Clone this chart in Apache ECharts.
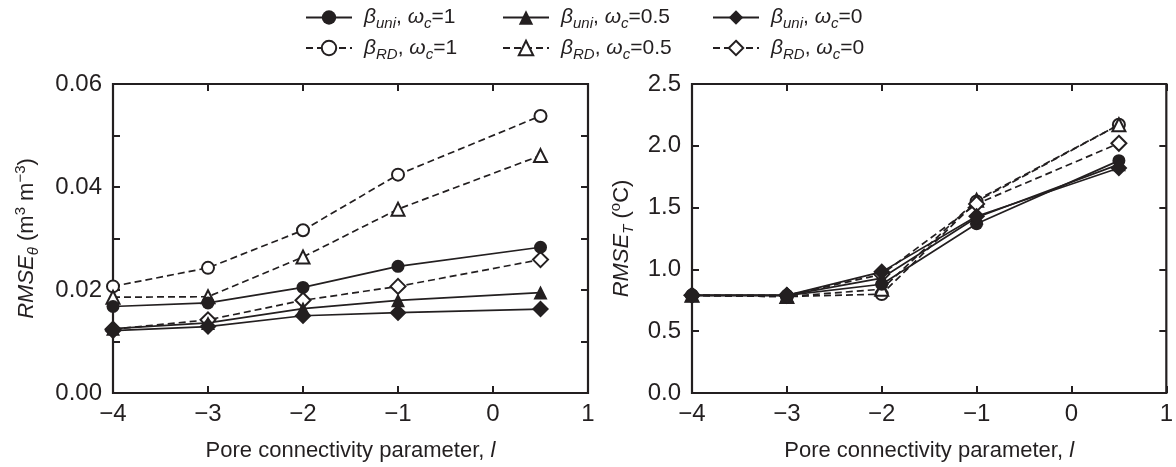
<!DOCTYPE html>
<html>
<head>
<meta charset="utf-8">
<script src="https://cdn.jsdelivr.net/npm/echarts@6/dist/echarts.min.js"></script>
<style>
  html, body { margin: 0; padding: 0; background: #ffffff; }
  #chart { width: 1176px; height: 467px; }
</style>
</head>
<body>
<div id="chart"></div>
<script>
// Pore connectivity parameter values on the x axis
const poreL = [-4, -3, -2, -1, 0.5];

// RMSE of soil water content (m3 m-3)
const thetaUni1  = [0.0168, 0.0175, 0.0205, 0.0246, 0.0283];
const thetaUni05 = [0.0125, 0.0136, 0.0164, 0.0180, 0.0195];
const thetaUni0  = [0.0121, 0.0129, 0.0150, 0.0156, 0.0163];
const thetaRD1   = [0.0207, 0.0243, 0.0316, 0.0424, 0.0538];
const thetaRD05  = [0.0186, 0.0187, 0.0264, 0.0357, 0.0461];
const thetaRD0   = [0.0124, 0.0142, 0.0180, 0.0207, 0.0259];

// RMSE of soil temperature (oC)
const tempUni1  = [0.79, 0.79, 0.88, 1.37, 1.88];
const tempUni05 = [0.79, 0.79, 0.93, 1.42, 1.85];
const tempUni0  = [0.79, 0.79, 0.98, 1.43, 1.82];
const tempRD1   = [0.79, 0.78, 0.80, 1.55, 2.17];
const tempRD05  = [0.79, 0.78, 0.84, 1.56, 2.17];
const tempRD0   = [0.79, 0.79, 0.96, 1.53, 2.02];

// Legend entries: key, beta variant, omega_c value
const legendKeys  = ['uni1', 'uni05', 'uni0', 'rd1', 'rd05', 'rd0'];
const betaLabels  = ['uni', 'uni', 'uni', 'RD', 'RD', 'RD'];
const omegaLabels = ['1', '0.5', '0', '1', '0.5', '0'];

// Dashed (RD) series are drawn first so the filled markers sit on top
const drawOrder = ['rd1', 'rd05', 'rd0', 'uni1', 'uni05', 'uni0'];

const ink = '#231f20';
const font = 'Liberation Sans';

const seriesStyle = {
  uni1:  { symbol: 'circle',        size: 13, dashed: false },
  uni05: { symbol: 'triangle',      size: 14, dashed: false },
  uni0:  { symbol: 'diamond',       size: 17, dashed: false },
  rd1:   { symbol: 'emptyCircle',   size: 12, dashed: true },
  rd05:  { symbol: 'emptyTriangle', size: 13, dashed: true },
  rd0:   { symbol: 'emptyDiamond',  size: 15, dashed: true }
};

const thetaSets = { uni1: thetaUni1, uni05: thetaUni05, uni0: thetaUni0, rd1: thetaRD1, rd05: thetaRD05, rd0: thetaRD0 };
const tempSets  = { uni1: tempUni1,  uni05: tempUni05,  uni0: tempUni0,  rd1: tempRD1,  rd05: tempRD05,  rd0: tempRD0 };

function pairs(ys) { return poreL.map((x, i) => [x, ys[i]]); }

function makeSeries(key, values, axisIdx) {
  const st = seriesStyle[key];
  return {
    type: 'line',
    name: key,
    xAxisIndex: axisIdx,
    yAxisIndex: axisIdx,
    data: pairs(values),
    symbol: st.symbol,
    symbolSize: st.size,
    showAllSymbol: true,
    color: ink,
    itemStyle: { color: ink, borderColor: ink, borderWidth: st.dashed ? 1.7 : 0 },
    lineStyle: { color: ink, width: 1.7, type: st.dashed ? [7, 4] : 'solid' },
    emphasis: { disabled: true },
    animation: false
  };
}

const series = [];
drawOrder.forEach(k => series.push(makeSeries(k, thetaSets[k], 0)));
drawOrder.forEach(k => series.push(makeSeries(k, tempSets[k], 1)));

const minus = v => String(v).replace('-', '\u2212');

const legendRich = {
  g: { fontFamily: font, fontSize: 21, fontStyle: 'italic', color: ink, lineHeight: 28, verticalAlign: 'middle' },
  s: { fontFamily: font, fontSize: 15, fontStyle: 'italic', color: ink, lineHeight: 14, verticalAlign: 'bottom' },
  n: { fontFamily: font, fontSize: 21, color: ink, lineHeight: 28, verticalAlign: 'middle' }
};

function legendText(name) {
  const i = legendKeys.indexOf(name);
  return '{g|\u03b2}{s|' + betaLabels[i] + '}{n|, }{g|\u03c9}{s|c}{n|=' + omegaLabels[i] + '}';
}

function legendColumn(left, keys) {
  return {
    orient: 'vertical',
    left: left,
    top: 2,
    itemWidth: 46,
    itemHeight: 18,
    itemGap: 6,
    data: keys,
    selectedMode: false,
    formatter: legendText,
    textStyle: { padding: [0, 0, 0, 7], rich: legendRich }
  };
}

const tickStyle = { show: true, inside: true, length: 7, lineStyle: { color: ink, width: 2 } };
const labelStyle = { color: ink, fontFamily: font, fontSize: 24 };
const noLine = { show: false, onZero: false };

function bottomX(grid) {
  return {
    type: 'value', gridIndex: grid, min: -4, max: 1, interval: 1,
    axisLine: noLine, axisTick: tickStyle, splitLine: { show: false },
    axisLabel: Object.assign({ margin: 9, formatter: minus }, labelStyle),
    name: '{n|Pore connectivity parameter, }{i|l}',
    nameLocation: 'middle', nameGap: 47,
    nameTextStyle: {
      rich: {
        n: { fontFamily: font, fontSize: 22, color: ink },
        i: { fontFamily: font, fontSize: 22, color: ink, fontStyle: 'italic' }
      }
    }
  };
}
function topX(grid) {
  return {
    type: 'value', gridIndex: grid, position: 'top', min: -4, max: 1, interval: 1,
    axisLine: noLine, axisTick: tickStyle, splitLine: { show: false },
    axisLabel: { show: false }
  };
}
function rightY(grid, max, interval) {
  return {
    type: 'value', gridIndex: grid, position: 'right', min: 0, max: max, interval: interval,
    axisLine: noLine, axisTick: tickStyle, splitLine: { show: false },
    axisLabel: { show: false }
  };
}

const yRich = {
  i: { fontFamily: font, fontSize: 22, fontStyle: 'italic', color: ink, lineHeight: 28, verticalAlign: 'middle' },
  s: { fontFamily: font, fontSize: 15, fontStyle: 'italic', color: ink, lineHeight: 14, verticalAlign: 'bottom' },
  n: { fontFamily: font, fontSize: 22, color: ink, lineHeight: 28, verticalAlign: 'middle' },
  p: { fontFamily: font, fontSize: 15, color: ink, lineHeight: 14, verticalAlign: 'top' }
};

const option = {
  backgroundColor: '#ffffff',
  animation: false,
  legend: [
    legendColumn(300, ['uni1', 'rd1']),
    legendColumn(497, ['uni05', 'rd05']),
    legendColumn(707, ['uni0', 'rd0'])
  ],
  grid: [
    { left: 113, right: 588, top: 84, bottom: 74, show: true, borderColor: ink, borderWidth: 2.2, backgroundColor: 'transparent' },
    { left: 692, right: 8, top: 84, bottom: 74, show: true, borderColor: ink, borderWidth: 2.2, backgroundColor: 'transparent' }
  ],
  xAxis: [bottomX(0), bottomX(1), topX(0), topX(1)],
  yAxis: [
    {
      type: 'value', gridIndex: 0, min: 0, max: 0.06, interval: 0.01,
      axisLine: noLine, axisTick: tickStyle, splitLine: { show: false },
      axisLabel: Object.assign({
        margin: 11,
        formatter: v => (Math.round(v * 100) % 2 ? '' : v.toFixed(2))
      }, labelStyle),
      name: '{i|RMSE}{s|\u03b8}{n| (m}{p|3}{n| m}{p|\u22123}{n|)}',
      nameLocation: 'middle', nameGap: 72, nameRotate: 90,
      nameTextStyle: { rich: yRich }
    },
    {
      type: 'value', gridIndex: 1, min: 0, max: 2.5, interval: 0.5,
      axisLine: noLine, axisTick: tickStyle, splitLine: { show: false },
      axisLabel: Object.assign({ margin: 11, formatter: v => v.toFixed(1) }, labelStyle),
      name: '{i|RMSE}{s|T}{n| (}{p|o}{n|C)}',
      nameLocation: 'middle', nameGap: 56, nameRotate: 90,
      nameTextStyle: { rich: yRich }
    },
    rightY(0, 0.06, 0.01),
    rightY(1, 2.5, 0.5)
  ],
  series: series
};

const chart = echarts.init(document.getElementById('chart'), null, { renderer: 'canvas' });
chart.setOption(option);
</script>
</body>
</html>
